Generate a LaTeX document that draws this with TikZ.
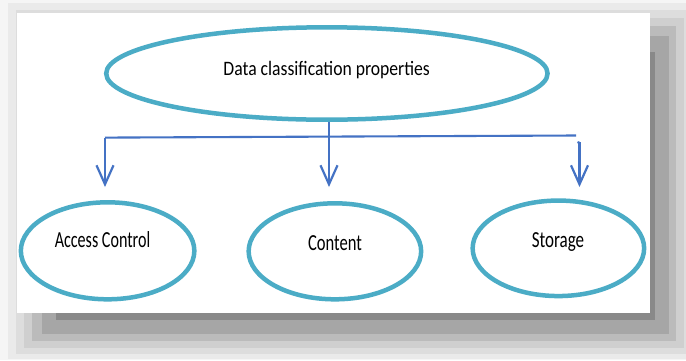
\documentclass[tikz,border=0pt]{standalone}
\usepackage{fontspec}
\usepackage{graphicx}
\setmainfont{Carlito}
\usetikzlibrary{shapes.geometric,arrows.meta}
\definecolor{teal}{HTML}{4BACC6}
\definecolor{conblue}{HTML}{4472C4}
\definecolor{bgA}{HTML}{F5F5F5}
\definecolor{shA}{HTML}{EAEAEA}
\definecolor{shAB}{HTML}{DDDDDD}
\definecolor{shB}{HTML}{CFCFCF}
\definecolor{shBC}{HTML}{BBBBBB}
\definecolor{shC}{HTML}{A6A6A6}
\definecolor{shD}{HTML}{898989}
\newcommand\toptextfont{\fontsize{20.5}{24}\selectfont}
\newcommand\subtextfont{\fontsize{23}{27}\selectfont}
\tikzset{
  oval/.style={draw=teal, line width=4.5pt, ellipse, inner sep=0pt, fill=white},
  conn/.style={draw=conblue, line width=2.1pt},
  arrowconn/.style={conn, -{Straight Barb[length=19pt,width=17pt,line width=2.2pt]}},
  label text/.style={anchor=base, text=black, inner sep=0pt}
}
\begin{document}
\begin{tikzpicture}[x=1pt,y=-1pt]
\useasboundingbox (0,0) rectangle (686,360);
% background and shadow
\fill[bgA] (0,0) rectangle (686,360);
\fill[shA] (8,3) rectangle (686,359);
\fill[shAB] (16,10) rectangle (686,354);
\fill[shB] (24,18) rectangle (684,348);
\fill[shBC] (32,26) rectangle (676,341);
\fill[shC] (42,36) rectangle (669,334);
\fill[shD] (56,52) rectangle (655,320);
\fill[white] (17,13) rectangle (650,313);
% ellipses
\node[oval, minimum width=441.4pt, minimum height=92.4pt] (top) at (326.9,73.5) {};
\node[oval, minimum width=173.5pt, minimum height=97pt] (ac) at (107.6,250.8) {};
\node[oval, minimum width=172.5pt, minimum height=96pt] (ct) at (334.9,251.3) {};
\node[oval, minimum width=171.5pt, minimum height=95.5pt] (st) at (558.4,248.3) {};
% texts
\node[label text, font=\toptextfont] (toptext) at (326.7,75) {\scalebox{0.86}[1]{Data classification properties}};
\node[label text, font=\subtextfont] (actext) at (102.5,247.7) {\scalebox{0.70}[1]{Access Control}};
\node[label text, font=\subtextfont] (cttext) at (335,250) {\scalebox{0.72}[1]{Content}};
\node[label text, font=\subtextfont] (sttext) at (558,247.7) {\scalebox{0.74}[1]{Storage}};
% connector coordinates
\coordinate (jL) at (105,137.6);
\coordinate (jR) at (576,135.5);
\coordinate (jM) at (329,136.6);
\coordinate (rStart) at (579.5,142);
\coordinate (tipL) at (105,187);
\coordinate (tipM) at (329,187);
\coordinate (tipR) at (579.5,187);
% connectors
\draw[conn] (jL) -- (jR);
\draw[arrowconn] (top.south -| jM) -- (tipM);
\draw[arrowconn] (jL) -- (tipL);
\draw[conn] (577.5,143) -- (rStart);
\draw[arrowconn] (rStart) -- (tipR);
\end{tikzpicture}
\end{document}
